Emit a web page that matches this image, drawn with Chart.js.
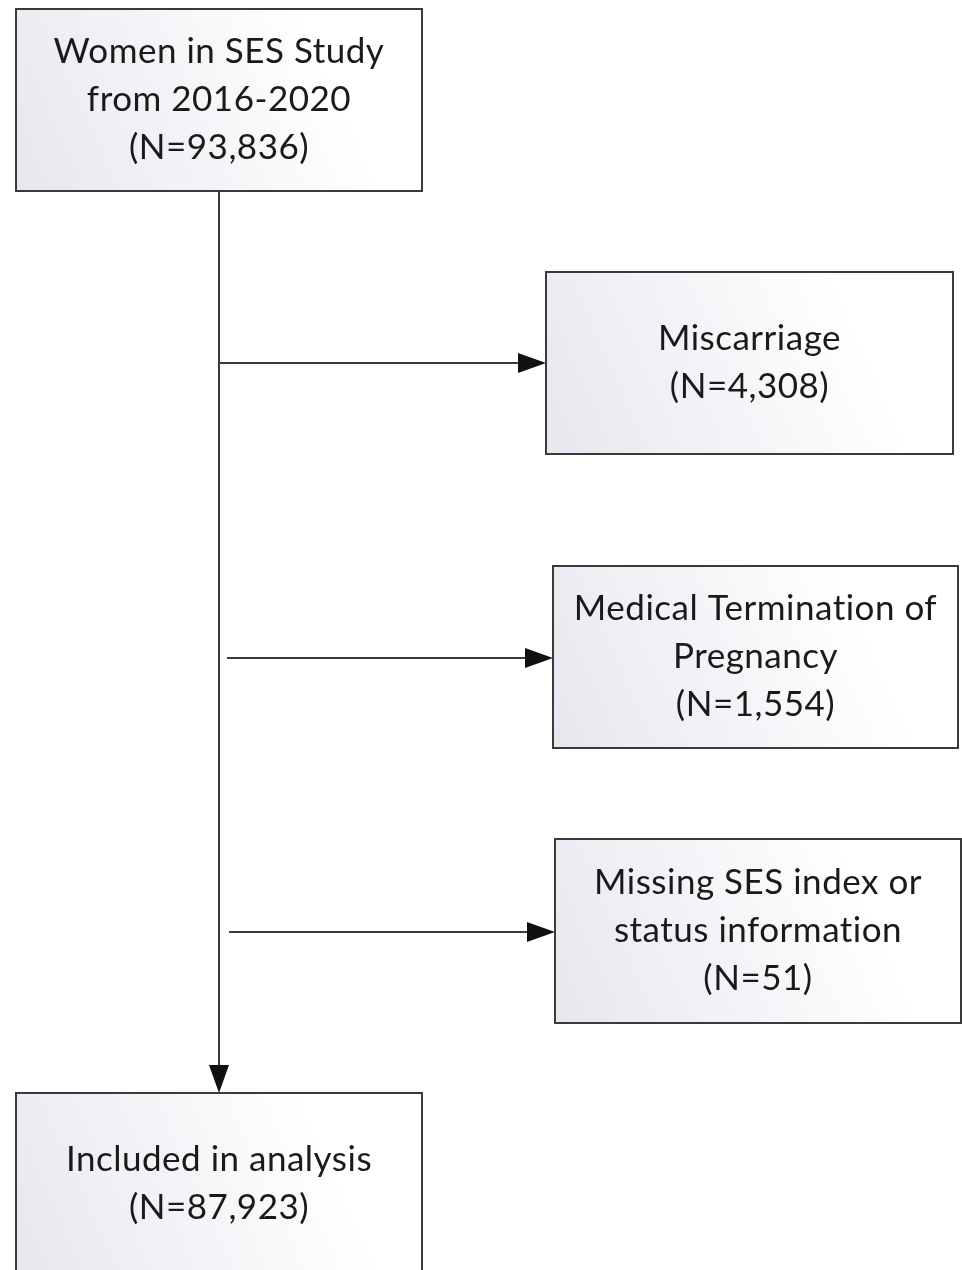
<!DOCTYPE html>
<html>
<head>
<meta charset="utf-8">
<script src="https://cdn.jsdelivr.net/npm/chart.js@4.4.1/dist/chart.umd.min.js"></script>
<style>
  html, body { margin:0; padding:0; background:#fff; }
  #flow { display:block; }
</style>
</head>
<body>
<canvas id="flow" width="962" height="1270"></canvas>
<script>
// ---------- dados do fluxograma ----------
const STEP_LABELS = [
  ['Women in SES Study', 'from 2016-2020'],
  ['Miscarriage'],
  ['Medical Termination of', 'Pregnancy'],
  ['Missing SES index or', 'status information'],
  ['Included in analysis']
];
const STEP_COUNTS = [93836, 4308, 1554, 51, 87923];

// ---------- layout (coordenadas na escala 0..962 x 0..1270) ----------
const BOX_LEFT   = [16, 546, 553, 555, 16];
const BOX_TOP    = [9, 272, 566, 839, 1093];
const BOX_RIGHT  = [422, 953, 958, 961, 422];
const BOX_BOTTOM = [191, 454, 748, 1023, 1275];
const MAIN_X     = 219;
const BRANCH_Y   = [363, 658, 932];
const BRANCH_X0  = [219, 227, 229];

const FONT = '35px Lato, "Open Sans", sans-serif';
const LINE_H = 48;
const fmtN = n => '(N=' + n.toLocaleString('en-US') + ')';

const centers = STEP_COUNTS.map((_, i) => ({
  x: (BOX_LEFT[i] + BOX_RIGHT[i]) / 2,
  y: (BOX_TOP[i] + BOX_BOTTOM[i]) / 2
}));

const flowPlugin = {
  id: 'flow',
  afterDatasetsDraw(chart){
    const { ctx, scales:{ x, y } } = chart;
    const px = v => x.getPixelForValue(v);
    const py = v => y.getPixelForValue(v);

    ctx.save();
    ctx.strokeStyle = '#3a3a3a';
    ctx.fillStyle = '#111';
    ctx.lineWidth = 2;

    const arrowHead = (tx, ty, dir) => {
      const L = 28, W = 10;
      ctx.beginPath();
      if(dir === 'down'){
        ctx.moveTo(tx, ty); ctx.lineTo(tx - W, ty - L); ctx.lineTo(tx + W, ty - L);
      } else {
        ctx.moveTo(tx, ty); ctx.lineTo(tx - L, ty - W); ctx.lineTo(tx - L, ty + W);
      }
      ctx.closePath(); ctx.fill();
    };

    // tronco vertical
    ctx.beginPath();
    ctx.moveTo(px(MAIN_X), py(BOX_BOTTOM[0]));
    ctx.lineTo(px(MAIN_X), py(BOX_TOP[4]) - 20);
    ctx.stroke();
    arrowHead(px(MAIN_X), py(BOX_TOP[4]), 'down');

    // ramos
    BRANCH_Y.forEach((by, i) => {
      const tx = px(BOX_LEFT[i + 1]);
      ctx.beginPath();
      ctx.moveTo(px(BRANCH_X0[i]), py(by));
      ctx.lineTo(tx - 20, py(by));
      ctx.stroke();
      arrowHead(tx, py(by), 'right');
    });

    // caixas
    STEP_COUNTS.forEach((n, i) => {
      const l = px(BOX_LEFT[i]), t = py(BOX_TOP[i]);
      const r = px(BOX_RIGHT[i]), b = py(BOX_BOTTOM[i]);
      const g = ctx.createLinearGradient(l, b, r, t);
      g.addColorStop(0, '#e6e6ee');
      g.addColorStop(0.5, '#f7f7fa');
      g.addColorStop(0.75, '#ffffff');
      ctx.fillStyle = g;
      ctx.fillRect(l, t, r - l, b - t);
      ctx.strokeStyle = '#3a3a3a';
      ctx.lineWidth = 2;
      ctx.strokeRect(l, t, r - l, b - t);

      const lines = [...STEP_LABELS[i], fmtN(n)];
      const cx = px(centers[i].x), cy = py(centers[i].y);
      ctx.fillStyle = '#1a1a1a';
      ctx.font = FONT;
      ctx.letterSpacing = '0.5px';
      ctx.textAlign = 'center';
      ctx.textBaseline = 'middle';
      const y0 = cy - (lines.length - 1) * LINE_H / 2;
      lines.forEach((s, k) => ctx.fillText(s, cx, y0 + k * LINE_H));
    });
    ctx.restore();
  }
};

new Chart(document.getElementById('flow'), {
  type: 'scatter',
  data: {
    datasets: [{
      label: 'steps',
      data: centers,
      pointRadius: 0,
      pointHoverRadius: 0
    }]
  },
  options: {
    responsive: false,
    maintainAspectRatio: false,
    animation: false,
    layout: { padding: 0 },
    plugins: { legend: { display:false }, tooltip: { enabled:false } },
    scales: {
      x: { type:'linear', min:0, max:962, display:false },
      y: { type:'linear', min:0, max:1270, reverse:true, display:false }
    }
  },
  plugins: [flowPlugin]
});
</script>
</body>
</html>
